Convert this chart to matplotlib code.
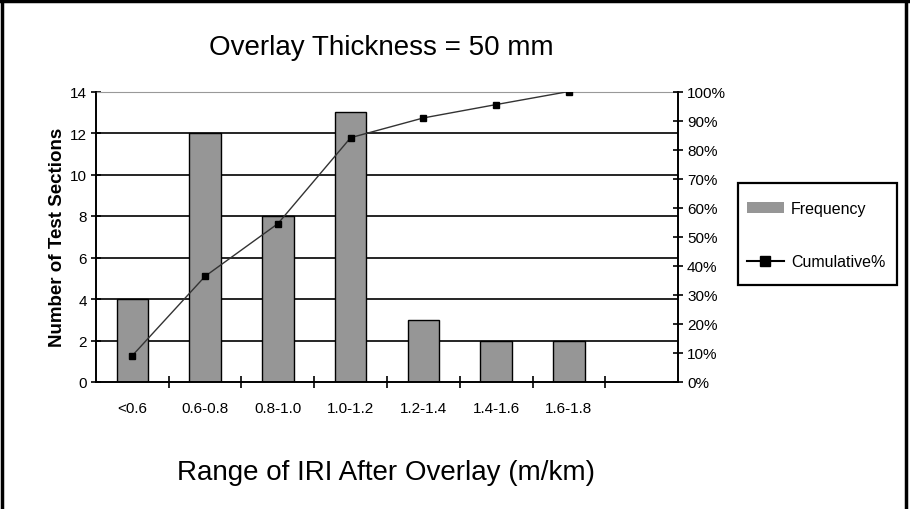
import matplotlib
matplotlib.use("Agg")
import matplotlib.pyplot as plt
from matplotlib.lines import Line2D
from matplotlib.patches import Patch, Rectangle
from matplotlib.ticker import FixedLocator, PercentFormatter

plt.rcParams['font.family'] = ['Liberation Sans', 'DejaVu Sans']

# data
categories = ["<0.6", "0.6-0.8", "0.8-1.0", "1.0-1.2", "1.2-1.4", "1.4-1.6", "1.6-1.8", ""]
frequency = [4, 12, 8, 13, 3, 2, 2]
cumulative_pct = [9.1, 36.4, 54.5, 84.1, 90.9, 95.5, 100.0]

BAR_GRAY = "#969696"
W, H = 910, 510

fig = plt.figure(figsize=(9.1, 5.1), dpi=100)
ax = fig.add_axes([96 / W, 1 - 383 / H, 582 / W, 290.5 / H])

x = list(range(len(frequency)))
ax.set_xlim(-0.5, len(categories) - 0.5)
ax.set_ylim(0, 14)

# gridlines at 2..12, thin gray line at the top
for yv in range(2, 14, 2):
    ax.axhline(yv, color="black", lw=1.2, zorder=1)

ax.bar(x, frequency, width=0.43, color=BAR_GRAY, edgecolor="black", lw=1, zorder=2)

ax.set_yticks(range(0, 15, 2))
ax.tick_params(axis="y", direction="inout", length=7, width=1.2, labelsize=11, pad=3)
ax.set_ylabel("Number of Test Sections", fontsize=13.5, fontweight="bold", labelpad=3)

# category labels at centres, tick marks at the boundaries
ax.set_xticks(range(len(categories)))
ax.set_xticklabels(categories, fontsize=11)
ax.tick_params(axis="x", which="major", length=0, pad=14)
ax.xaxis.set_minor_locator(FixedLocator([i + 0.5 for i in range(len(categories) - 1)]))
ax.tick_params(axis="x", which="minor", direction="inout", length=8, width=1.2)

for side in ["left", "bottom", "right"]:
    ax.spines[side].set_linewidth(1.2)
ax.spines["top"].set_color("#999999")
ax.spines["top"].set_linewidth(0.8)

ax2 = ax.twinx()
ax2.set_ylim(0, 100)
ax2.set_yticks(range(0, 101, 10))
ax2.yaxis.set_major_formatter(PercentFormatter(decimals=0))
ax2.tick_params(axis="y", direction="inout", length=7, width=1.2, labelsize=11, pad=3)
ax2.plot(x, cumulative_pct, color="#333333", lw=1, marker="s", markersize=5,
         markerfacecolor="black", markeredgecolor="black", zorder=3)
for side in ["left", "bottom", "right"]:
    ax2.spines[side].set_linewidth(1.2)
ax2.spines["top"].set_visible(False)

fig.text(381 / W, 1 - 48 / H, "Overlay Thickness = 50 mm", fontsize=20,
         ha="center", va="center")
fig.text(386 / W, 1 - 473 / H, "Range of IRI After Overlay (m/km)", fontsize=20,
         ha="center", va="center")

# legend box drawn separately so the padding can match
fig.add_artist(Rectangle((738 / W, 1 - 286 / H), 159 / W, 102 / H, transform=fig.transFigure,
                         facecolor="white", edgecolor="black", lw=1.6, zorder=4))
handles = [
    Patch(facecolor=BAR_GRAY, edgecolor="none"),
    Line2D([0], [0], color="black", lw=1.5, marker="s", markersize=7),
]
leg = fig.legend(handles, ["Frequency", "Cumulative%"], loc="center",
                 bbox_to_anchor=(816 / W, 1 - 236 / H), fontsize=11.5,
                 frameon=False, labelspacing=2.4, handlelength=2.3,
                 borderpad=0, handletextpad=0.45)
leg.set_zorder(5)

# figure border (left, top, right)
fig.add_artist(Line2D([2 / W, 2 / W], [0, 1], transform=fig.transFigure, color="black", lw=2.5))
fig.add_artist(Line2D([0, 1], [1 - 1.5 / H, 1 - 1.5 / H], transform=fig.transFigure, color="black", lw=2.5))
fig.add_artist(Line2D([906 / W, 906 / W], [0, 1], transform=fig.transFigure, color="black", lw=2.5))

fig.savefig("out.png", dpi=100)
